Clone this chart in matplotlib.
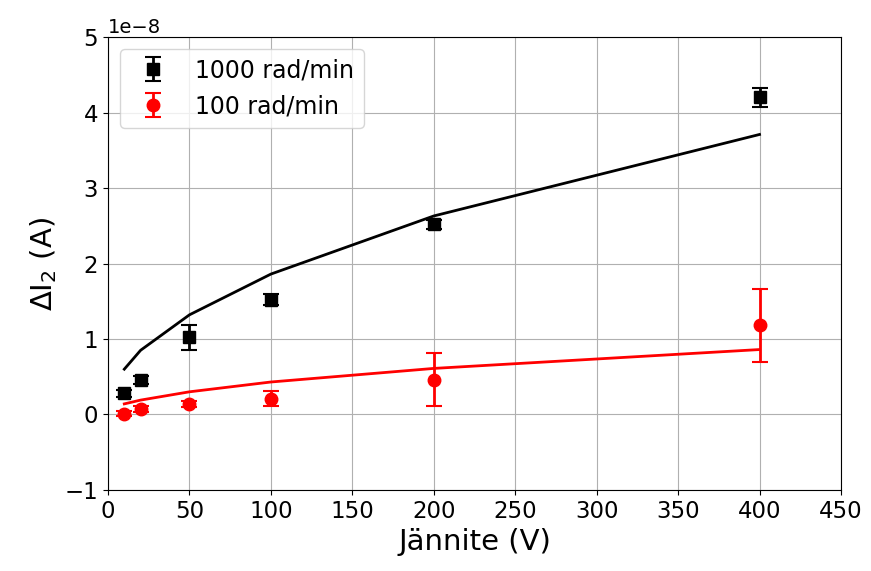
import matplotlib
matplotlib.use("Agg")
import matplotlib.pyplot as plt

# measured points (x in V, y in units of 1e-8 A)
voltage = [10, 20, 50, 100, 200, 400]

i_1000 = [0.28, 0.46, 1.02, 1.52, 2.52, 4.20]
err_1000 = [0.05, 0.05, 0.17, 0.07, 0.06, 0.12]
i_100 = [0.01, 0.07, 0.14, 0.21, 0.46, 1.18]
err_100 = [0.03, 0.04, 0.04, 0.10, 0.35, 0.48]

# model curves
fit_1000 = [0.60, 0.85, 1.32, 1.86, 2.63, 3.71]
fit_100 = [0.14, 0.19, 0.30, 0.43, 0.61, 0.86]

scale = 1e-8

fig = plt.figure(figsize=(8.71, 5.71), dpi=100)
ax = fig.add_axes([0.124, 0.142, 0.8415, 0.793])

ax.errorbar(voltage, [v * scale for v in i_1000], yerr=[e * scale for e in err_1000],
            fmt="s", color="black", markersize=9, capsize=6, elinewidth=2,
            capthick=1.5, label="1000 rad/min")
ax.errorbar(voltage, [v * scale for v in i_100], yerr=[e * scale for e in err_100],
            fmt="o", color="red", markersize=9, capsize=6, elinewidth=2,
            capthick=1.5, label="100 rad/min")
ax.plot(voltage, [v * scale for v in fit_1000], color="black", lw=2)
ax.plot(voltage, [v * scale for v in fit_100], color="red", lw=2)

ax.set_xlim(0, 450)
ax.set_ylim(-1e-8, 5e-8)
ax.set_xticks(range(0, 451, 50))
ax.grid(True, color="#b0b0b0")
ax.tick_params(labelsize=16.5)
ax.yaxis.get_offset_text().set_fontsize(14)
ax.set_xlabel("Jännite (V)", fontsize=21)
ax.set_ylabel(r"$\Delta\mathrm{I}_2$ (A)", fontsize=21)
ax.legend(loc="upper left", fontsize=17)

fig.savefig("out.png", dpi=100)
